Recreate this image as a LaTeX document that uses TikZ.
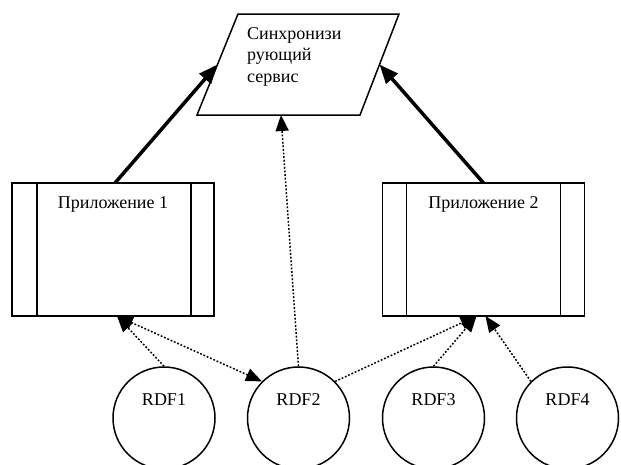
\documentclass[tikz,border=0pt]{standalone}
\usepackage{fontspec}
\setmainfont{Liberation Serif}
\usetikzlibrary{arrows.meta,calc}
\begin{document}
\begin{tikzpicture}[x=1pt,y=-1pt,
  bigtip/.tip={Triangle[length=19pt,width=15pt]},
  dottip/.tip={Triangle[length=16pt,width=13pt]},
  lbl/.style={font=\fontsize{18}{21.5}\selectfont, inner sep=0pt},
  outline/.style={line width=1.5pt},
  appbox/.style={draw, outline, minimum width=202pt, minimum height=133pt, inner sep=0pt, outer sep=0pt},
  rdfnode/.style={draw, circle, outline, minimum size=102pt, inner sep=0pt},
  bold/.style={line width=3.5pt, -bigtip},
  dots/.style={line width=1.5pt, dash pattern=on 1.8pt off 1.8pt, -dottip},
]
\useasboundingbox (0,0) rectangle (621,464);

% synchronising service (parallelogram)
\coordinate (stl) at (238,14);
\coordinate (str) at (399,14);
\coordinate (sbr) at (360,115);
\coordinate (sbl) at (197,115);
\draw[outline, line join=miter] (stl) -- (str) -- (sbr) -- (sbl) -- cycle;
\coordinate (sleft) at ($(stl)!0.5!(sbl)$);
\coordinate (sright) at ($(str)!0.5!(sbr)$);
\coordinate (sbottom) at (281,115);
\node[lbl, anchor=north west, align=left] (synctext) at (247,27) {Синхронизи\\рующий\\сервис};

% applications
\node[appbox] (b1) at (113,249.5) {};
\node[appbox] (b2) at (483.5,249.5) {};
\draw[outline] ([xshift=25pt]b1.north west) -- ([xshift=25pt]b1.south west);
\draw[outline] ([xshift=-23pt]b1.north east) -- ([xshift=-23pt]b1.south east);
\draw[outline] ([xshift=24pt]b2.north west) -- ([xshift=24pt]b2.south west);
\draw[outline] ([xshift=-24pt]b2.north east) -- ([xshift=-24pt]b2.south east);
\node[lbl, anchor=base] (b1text) at (113,208) {Приложение 1};
\node[lbl, anchor=base] (b2text) at (483.5,208) {Приложение 2};

% RDF sources
\node[rdfnode] (rdf1) at (164,418) {};
\node[rdfnode] (rdf2) at (298.5,418) {};
\node[rdfnode] (rdf3) at (433.5,418) {};
\node[rdfnode] (rdf4) at (567.5,418) {};
\node[lbl, anchor=base] (r1text) at (164,405) {RDF1};
\node[lbl, anchor=base] (r2text) at (298.5,405) {RDF2};
\node[lbl, anchor=base] (r3text) at (433.5,405) {RDF3};
\node[lbl, anchor=base] (r4text) at (567.5,405) {RDF4};

% connectors
\draw[bold] ([xshift=2pt]b1.north) -- (sleft);
\draw[bold] (b2.north) -- (sright);
\draw[dots] (rdf2.north) -- (sbottom);
\draw[dots] (rdf1.north) -- ([xshift=4pt]b1.south);
\draw[dots, dottip-dottip] ([xshift=4pt]b1.south) -- (rdf2.135);
\draw[dots] (rdf2.45) -- ([xshift=-7pt]b2.south);
\draw[dots] (rdf3.north) -- ([xshift=-7pt]b2.south);
\draw[dots] (rdf4.135) -- ([xshift=2pt]b2.south);
\end{tikzpicture}
\end{document}
